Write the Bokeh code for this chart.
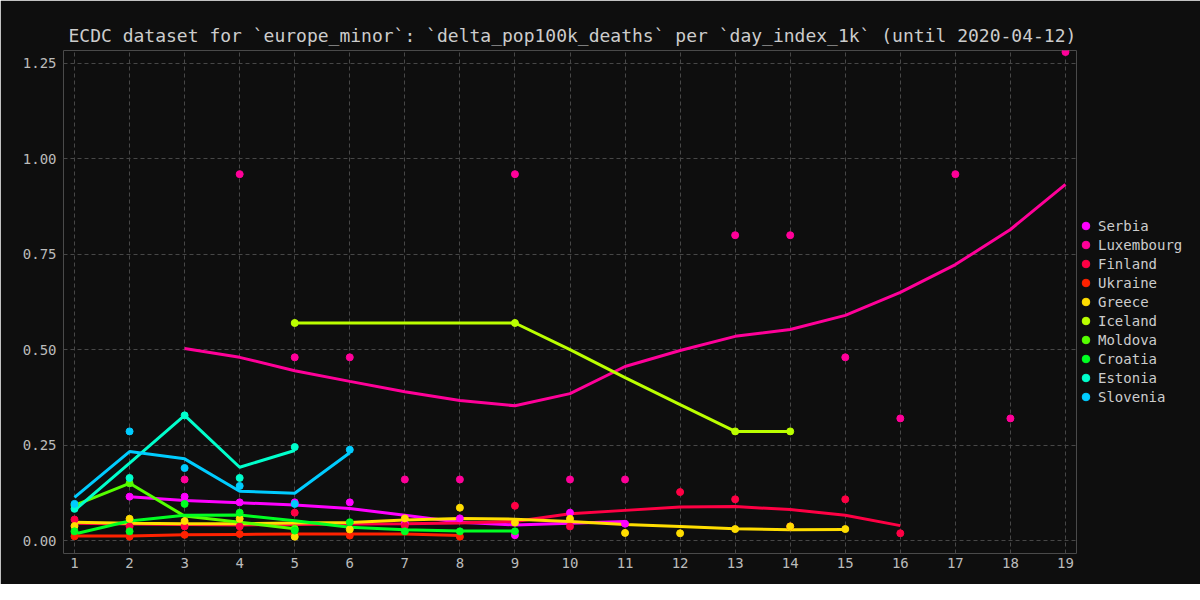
from bokeh.plotting import figure
from bokeh.models import Legend, LegendItem, Range1d, FixedTicker, NumeralTickFormatter
from bokeh.embed import file_html
from bokeh.resources import INLINE

countries = ["Serbia", "Luxembourg", "Finland", "Ukraine", "Greece",
             "Iceland", "Moldova", "Croatia", "Estonia", "Slovenia"]
colors = ["#ff00ff", "#ff0099", "#ff0044", "#ff2200", "#ffdd00",
          "#bbff00", "#55ff00", "#00ff22", "#00ffcc", "#00ccff"]

# daily points (day index, value)
serbia_px = [2, 3, 4, 5, 6, 7, 8, 9, 10, 11]
serbia_py = [0.115, 0.115, 0.100, 0.100, 0.100, 0.045, 0.058, 0.014, 0.073, 0.044]
lux_px = [3, 4, 5, 6, 7, 8, 9, 10, 11, 13, 14, 15, 16, 17, 18, 19]
lux_py = [0.16, 0.96, 0.48, 0.48, 0.16, 0.16, 0.96, 0.16, 0.16, 0.80, 0.80, 0.48, 0.32, 0.96, 0.32, 1.28]
fin_px = [1, 2, 3, 4, 5, 7, 9, 10, 12, 13, 14, 15, 16]
fin_py = [0.055, 0.037, 0.037, 0.037, 0.073, 0.039, 0.091, 0.037, 0.127, 0.108, 0.037, 0.108, 0.019]
ukr_px = [1, 2, 3, 4, 6, 8]
ukr_py = [0.011, 0.010, 0.015, 0.017, 0.013, 0.010]
gre_px = [1, 2, 3, 4, 5, 6, 7, 8, 9, 10, 11, 12, 13, 14, 15]
gre_py = [0.038, 0.057, 0.051, 0.057, 0.010, 0.029, 0.058, 0.086, 0.047, 0.057, 0.020, 0.019, 0.030, 0.037, 0.030]
ice_px = [5, 9, 13, 14]
ice_py = [0.57, 0.57, 0.286, 0.286]
mol_px = [1, 2, 5]
mol_py = [0.092, 0.150, 0.031]
cro_px = [1, 2, 3, 4, 5, 6, 7, 8, 9]
cro_py = [0.024, 0.024, 0.096, 0.073, 0.026, 0.048, 0.024, 0.024, 0.024]
est_px = [1, 2, 3, 4, 5]
est_py = [0.083, 0.164, 0.328, 0.164, 0.245]
slo_px = [1, 2, 3, 4, 5, 6]
slo_py = [0.096, 0.286, 0.190, 0.143, 0.096, 0.238]

# smoothed lines
serbia_lx = [2, 3, 4, 5, 6, 7, 8, 9, 10, 11]
serbia_ly = [0.115, 0.105, 0.099, 0.093, 0.084, 0.066, 0.048, 0.041, 0.045, 0.050]
lux_lx = list(range(3, 20))
lux_ly = [0.503, 0.480, 0.445, 0.417, 0.390, 0.367, 0.353, 0.385, 0.456, 0.498,
          0.535, 0.553, 0.590, 0.650, 0.723, 0.815, 0.933]
fin_lx = list(range(1, 17))
fin_ly = [0.045, 0.043, 0.042, 0.041, 0.042, 0.043, 0.044, 0.046, 0.050, 0.070,
          0.079, 0.088, 0.089, 0.081, 0.066, 0.039]
ukr_lx = list(range(1, 9))
ukr_ly = [0.012, 0.012, 0.015, 0.016, 0.017, 0.017, 0.017, 0.013]
gre_lx = list(range(1, 16))
gre_ly = [0.048, 0.045, 0.044, 0.044, 0.046, 0.047, 0.054, 0.058, 0.056, 0.050,
          0.042, 0.037, 0.031, 0.028, 0.029]
ice_lx = [5, 6, 7, 8, 9, 10, 11, 12, 13, 14]
ice_ly = [0.57, 0.57, 0.57, 0.57, 0.57, 0.50, 0.427, 0.356, 0.286, 0.286]
mol_lx = [1, 2, 3, 4, 5]
mol_ly = [0.092, 0.150, 0.064, 0.048, 0.031]
cro_lx = list(range(1, 10))
cro_ly = [0.017, 0.051, 0.066, 0.067, 0.052, 0.035, 0.028, 0.025, 0.025]
est_lx = [1, 2, 3, 4, 5]
est_ly = [0.079, 0.203, 0.328, 0.192, 0.236]
slo_lx = [1, 2, 3, 4, 5, 6]
slo_ly = [0.113, 0.233, 0.214, 0.129, 0.124, 0.230]

x_ticks = list(range(1, 20))
y_ticks = [0.0, 0.25, 0.5, 0.75, 1.0, 1.25]

points = [(serbia_px, serbia_py), (lux_px, lux_py), (fin_px, fin_py), (ukr_px, ukr_py),
          (gre_px, gre_py), (ice_px, ice_py), (mol_px, mol_py), (cro_px, cro_py),
          (est_px, est_py), (slo_px, slo_py)]
lines = [(serbia_lx, serbia_ly), (lux_lx, lux_ly), (fin_lx, fin_ly), (ukr_lx, ukr_ly),
         (gre_lx, gre_ly), (ice_lx, ice_ly), (mol_lx, mol_ly), (cro_lx, cro_ly),
         (est_lx, est_ly), (slo_lx, slo_ly)]

FONT = "DejaVu Sans Mono"
BG = "#0e0e0e"

p = figure(frame_width=1013, frame_height=503, output_backend="svg", toolbar_location=None,
           x_range=Range1d(0.8, 19.2), y_range=Range1d(-0.034, 1.284),
           background_fill_color=BG, border_fill_color=BG,
           min_border_left=63, min_border_top=50, min_border_bottom=31, min_border_right=0)
p.outline_line_color = None

p.title.text = "ECDC dataset for `europe_minor`: `delta_pop100k_deaths` per `day_index_1k` (until 2020-04-12)"
p.title.text_font = FONT
p.title.text_font_size = "18px"
p.title.text_font_style = "normal"
p.title.text_color = "#cccccc"
p.title.align = "left"
p.title.offset = 5

for ax in (p.xaxis[0], p.yaxis[0]):
    ax.axis_line_color = None
    ax.major_tick_line_color = None
    ax.minor_tick_line_color = None
    ax.major_tick_out = 0
    ax.major_tick_in = 0
    ax.minor_tick_out = 0
    ax.major_label_text_font = FONT
    ax.major_label_text_font_size = "14px"
    ax.major_label_text_color = "#bbbbbb"
p.xaxis.ticker = FixedTicker(ticks=x_ticks)
p.yaxis.ticker = FixedTicker(ticks=y_ticks)
p.yaxis.formatter = NumeralTickFormatter(format="0.00")
p.xaxis.major_label_standoff = 4
p.yaxis.major_label_standoff = 7

for g in (p.xgrid[0], p.ygrid[0]):
    g.grid_line_color = "#474747"
    g.grid_line_dash = "4 3"
    g.grid_line_width = 1

for (lx, ly), c in zip(lines, colors):
    p.line(lx, ly, line_color=c, line_width=3)

items = []
for (px, py), c, name in zip(points, colors, countries):
    r = p.scatter(px, py, marker="circle", size=7, fill_color=c, line_color=c)
    items.append(LegendItem(label=name, renderers=[r]))

legend = Legend(items=items, location=(0, 147), background_fill_alpha=0,
                border_line_color=None, label_text_font=FONT, label_text_font_size="14px",
                label_text_color="#cccccc", glyph_width=19, glyph_height=19,
                label_standoff=3, spacing=0, padding=0, margin=1, label_height=19)
p.add_layout(legend, "right")

open("out.html", "w").write(file_html(p, INLINE))
